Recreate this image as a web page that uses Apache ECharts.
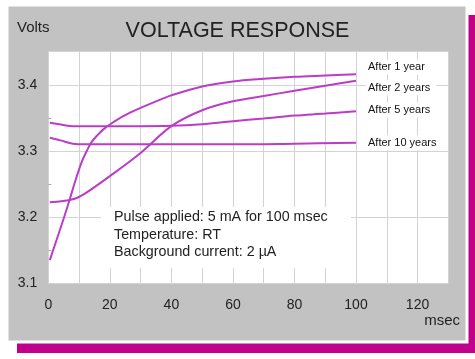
<!DOCTYPE html>
<html>
<head>
<meta charset="utf-8">
<script src="https://cdn.jsdelivr.net/npm/echarts@6/dist/echarts.min.js"></script>
<style>
html,body{margin:0;padding:0;background:#fff;}
#c{width:475px;height:359px;}
</style>
</head>
<body>
<div id="c"></div>
<script>
var seriesNames = ['After 1 year', 'After 2 years', 'After 5 years', 'After 10 years'];
var msec1 = [0.5, 3, 5, 7, 9, 11, 12.5, 14, 16, 18, 20, 25, 30, 35, 40, 50, 60, 70, 80, 90, 100];
var volts1 = [3.135, 3.17, 3.198, 3.2275, 3.258, 3.285, 3.30, 3.313, 3.324, 3.333, 3.34, 3.354, 3.365, 3.375, 3.384, 3.3975, 3.405, 3.409, 3.412, 3.414, 3.416];
var msec2 = [0.5, 8, 12, 20, 30, 40, 50, 60, 70, 80, 90, 100];
var volts2 = [3.2225, 3.227, 3.236, 3.262, 3.297, 3.3375, 3.3615, 3.375, 3.383, 3.391, 3.3985, 3.406];
var msec5 = [0.5, 4, 8, 20, 30, 40, 50, 60, 70, 80, 90, 100];
var volts5 = [3.3425, 3.34, 3.3375, 3.3375, 3.3375, 3.338, 3.3405, 3.345, 3.349, 3.3535, 3.3565, 3.36];
var msec10 = [0.5, 4, 8, 12, 20, 40, 60, 80, 100];
var volts10 = [3.32, 3.316, 3.311, 3.31, 3.31, 3.31, 3.31, 3.311, 3.3125];
var xTickLabels = ['0', '20', '40', '60', '80', '100', '120'];
var yTickLabels = ['3.1', '3.2', '3.3', '3.4'];
var notes = ['Pulse applied: 5 mA for 100 msec', 'Temperature: RT', 'Background current: 2 \u00b5A'];

function pairs(xs, ys) { return xs.map(function (x, i) { return [x, ys[i]]; }); }
var allX = [msec1, msec2, msec5, msec10];
var allY = [volts1, volts2, volts5, volts10];
var labelOffsets = [[0, -7], [0, 7], [0, -1], [0, 0]];

var FONT = 'Liberation Sans, Arial, sans-serif';
var lineColor = '#bb3cc8';

var chart = echarts.init(document.getElementById('c'), null, {renderer: 'canvas'});
var series = seriesNames.map(function (name, i) {
  return {
    name: name,
    type: 'line',
    data: pairs(allX[i], allY[i]),
    smooth: 0.35,
    showSymbol: false,
    symbol: 'none',
    lineStyle: {color: lineColor, width: 2},
    z: 3,
    endLabel: {
      show: true,
      formatter: '{a}',
      distance: 10,
      offset: labelOffsets[i],
      color: '#111',
      fontSize: 11,
      fontFamily: FONT,
      backgroundColor: '#fff',
      padding: [2, 6, 2, 2]
    }
  };
});

var graphics = [
  {type: 'rect', zlevel: -1, z: 0, shape: {x: 17, y: 15, width: 470, height: 338}, style: {fill: '#c0008c'}},
  {type: 'rect', zlevel: -1, z: 1, shape: {x: 7, y: 5, width: 460, height: 337}, style: {fill: '#c2c2c2', stroke: '#ffffff', lineWidth: 3}},
  {type: 'text', z: 10, left: 17, top: 20, style: {text: 'Volts', fontSize: 15, fontFamily: FONT, fill: '#222'}},
  {type: 'text', z: 10, left: 'center', top: 20, style: {text: 'VOLTAGE RESPONSE', fontSize: 21.5, fontFamily: FONT, fill: '#222'}},
  {type: 'text', z: 10, right: 15, top: 313, style: {text: 'msec', fontSize: 15, fontFamily: FONT, fill: '#222'}},
  {type: 'rect', z: 10, shape: {x: 101, y: 207, width: 250, height: 61}, style: {fill: '#fff'}}
];
notes.forEach(function (t, i) {
  graphics.push({type: 'text', z: 11, left: 114, top: 210 + i * 17.7, style: {text: t, fontSize: 14.3, fontFamily: FONT, fill: '#222'}});
});

chart.setOption({
  backgroundColor: '#fff',
  animation: false,
  grid: {left: 48.3, right: 26.7, top: 51.7, bottom: 75.7, show: true, backgroundColor: '#fff', borderWidth: 0},
  xAxis: {
    type: 'value', min: 0, max: 130, interval: 10,
    axisLine: {show: false}, axisTick: {show: false},
    splitLine: {show: true, lineStyle: {color: '#d3d3d3', width: 1}},
    axisLabel: {
      margin: 15, fontSize: 14, fontFamily: FONT, color: '#222',
      formatter: function (v) { var s = String(Math.round(v)); return xTickLabels.indexOf(s) >= 0 ? s : ''; }
    }
  },
  yAxis: {
    type: 'value', min: 3.1, max: 3.45, interval: 0.1,
    axisLine: {show: false},
    axisTick: {show: false, inside: true},
    minorTick: {show: true, splitNumber: 2, length: 3, lineStyle: {color: '#aaa'}},
    splitLine: {show: true, lineStyle: {color: '#d3d3d3', width: 1}},
    axisLabel: {
      margin: 11, fontSize: 14, fontFamily: FONT, color: '#222', showMaxLabel: false,
      formatter: function (v) { var s = v.toFixed(1); return yTickLabels.indexOf(s) >= 0 && Math.abs(v - parseFloat(s)) < 1e-6 ? s : ''; }
    }
  },
  graphic: graphics,
  series: series
});
</script>
</body>
</html>
